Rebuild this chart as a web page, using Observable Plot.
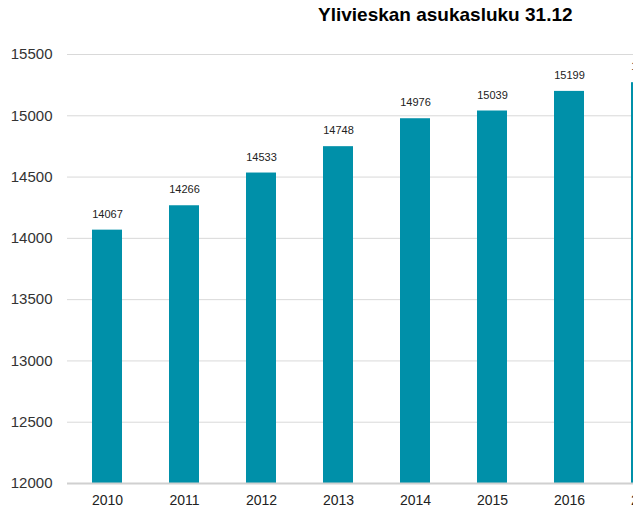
<!DOCTYPE html>
<html>
<head>
<meta charset="utf-8">
<script src="https://cdn.jsdelivr.net/npm/d3@7"></script>
<script src="https://cdn.jsdelivr.net/npm/@observablehq/plot@0.6"></script>
<style>
  html, body { margin: 0; padding: 0; background: #fff; }
  #wrap { position: relative; width: 633px; height: 510px; overflow: hidden; }
  #title { position: absolute; left: 318px; top: 4px; font-family: "Liberation Sans", Arial, sans-serif; font-weight: bold; font-size: 19px; color: #000; white-space: nowrap; }
</style>
</head>
<body>
<div id="wrap"><div id="title">Ylivieskan asukasluku 31.12</div></div>
<script>
const years = ["2010", "2011", "2012", "2013", "2014", "2015", "2016", "2017"];
const population = [14067, 14266, 14533, 14748, 14976, 15039, 15199, 15270];
const yTicks = [12000, 12500, 13000, 13500, 14000, 14500, 15000, 15500];

const data = years.map((y, i) => ({year: y, value: population[i]}));

const chart = Plot.plot({
  width: 633,
  height: 510,
  marginLeft: 67,
  marginRight: 0,
  marginTop: 54,
  marginBottom: 27,
  style: {fontFamily: "'Liberation Sans', Arial, sans-serif", background: "#fff", overflow: "hidden"},
  x: {domain: years, range: [67, 686.8], paddingInner: 0.612, paddingOuter: 0.31, align: 0.5, label: null},
  y: {domain: [12000, 15500], label: null},
  marks: [
    Plot.ruleY(yTicks.slice(1), {stroke: "#d9d9d9", strokeWidth: 1}),
    Plot.barY(data, {x: "year", y1: 12000, y2: "value", fill: "#0090a9"}),
    Plot.ruleY([12000], {stroke: "#d0d0d0", strokeWidth: 2}),
    Plot.text(data, {x: "year", y: "value", text: d => String(d.value), dy: -16, fill: "#222", fontSize: 11}),
    Plot.axisY({ticks: yTicks, tickSize: 0, tickPadding: 15, tickFormat: d => String(d), fontSize: 15, color: "#333", label: null}),
    Plot.axisX({tickSize: 0, tickPadding: 12, fontSize: 14, color: "#222", label: null})
  ]
});
document.getElementById("wrap").prepend(chart);
</script>
</body>
</html>
